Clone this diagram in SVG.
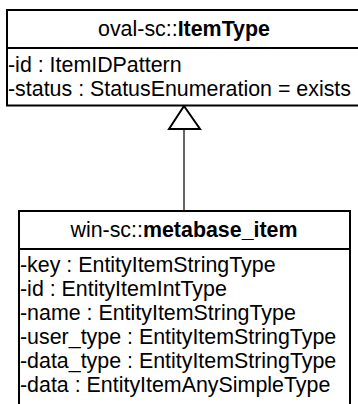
<svg xmlns="http://www.w3.org/2000/svg" width="358" height="404" viewBox="0 0 358 404">
<style>
.box{fill:#fff;stroke:#000;stroke-width:2}
.div{stroke:#000;stroke-width:2}
text{font-family:"Liberation Sans",Arial,sans-serif;font-size:21.4px;fill:#000}
.h{text-anchor:middle}
.b{font-weight:bold}
.conn{stroke:#333;stroke-width:1.5;fill:none}
.tri{fill:#fff;stroke:#000;stroke-width:2}
</style>
<g id="connectors">
<line class="conn" x1="184" y1="129" x2="184" y2="211"/>
<polygon class="tri" points="184,106 169,129 200,129"/>
</g>
<g id="ItemType">
<rect class="box" x="7" y="10" width="360" height="95.5"/>
<line class="div" x1="7" y1="48" x2="367" y2="48"/>
<text class="h" x="184" y="36">oval-sc::<tspan class="b">ItemType</tspan></text>
<text x="8" y="72">-id : ItemIDPattern</text>
<text x="8" y="96">-status : StatusEnumeration = exists</text>
</g>
<g id="metabase_item">
<rect class="box" x="19" y="211" width="331" height="210"/>
<line class="div" x1="19" y1="249" x2="350" y2="249"/>
<text class="h" x="184" y="237">win-sc::<tspan class="b">metabase_item</tspan></text>
<text x="20" y="272">-key : EntityItemStringType</text>
<text x="20" y="296">-id : EntityItemIntType</text>
<text x="20" y="320">-name : EntityItemStringType</text>
<text x="20" y="344">-user_type : EntityItemStringType</text>
<text x="20" y="368">-data_type : EntityItemStringType</text>
<text x="20" y="392">-data : EntityItemAnySimpleType</text>
</g>
</svg>
